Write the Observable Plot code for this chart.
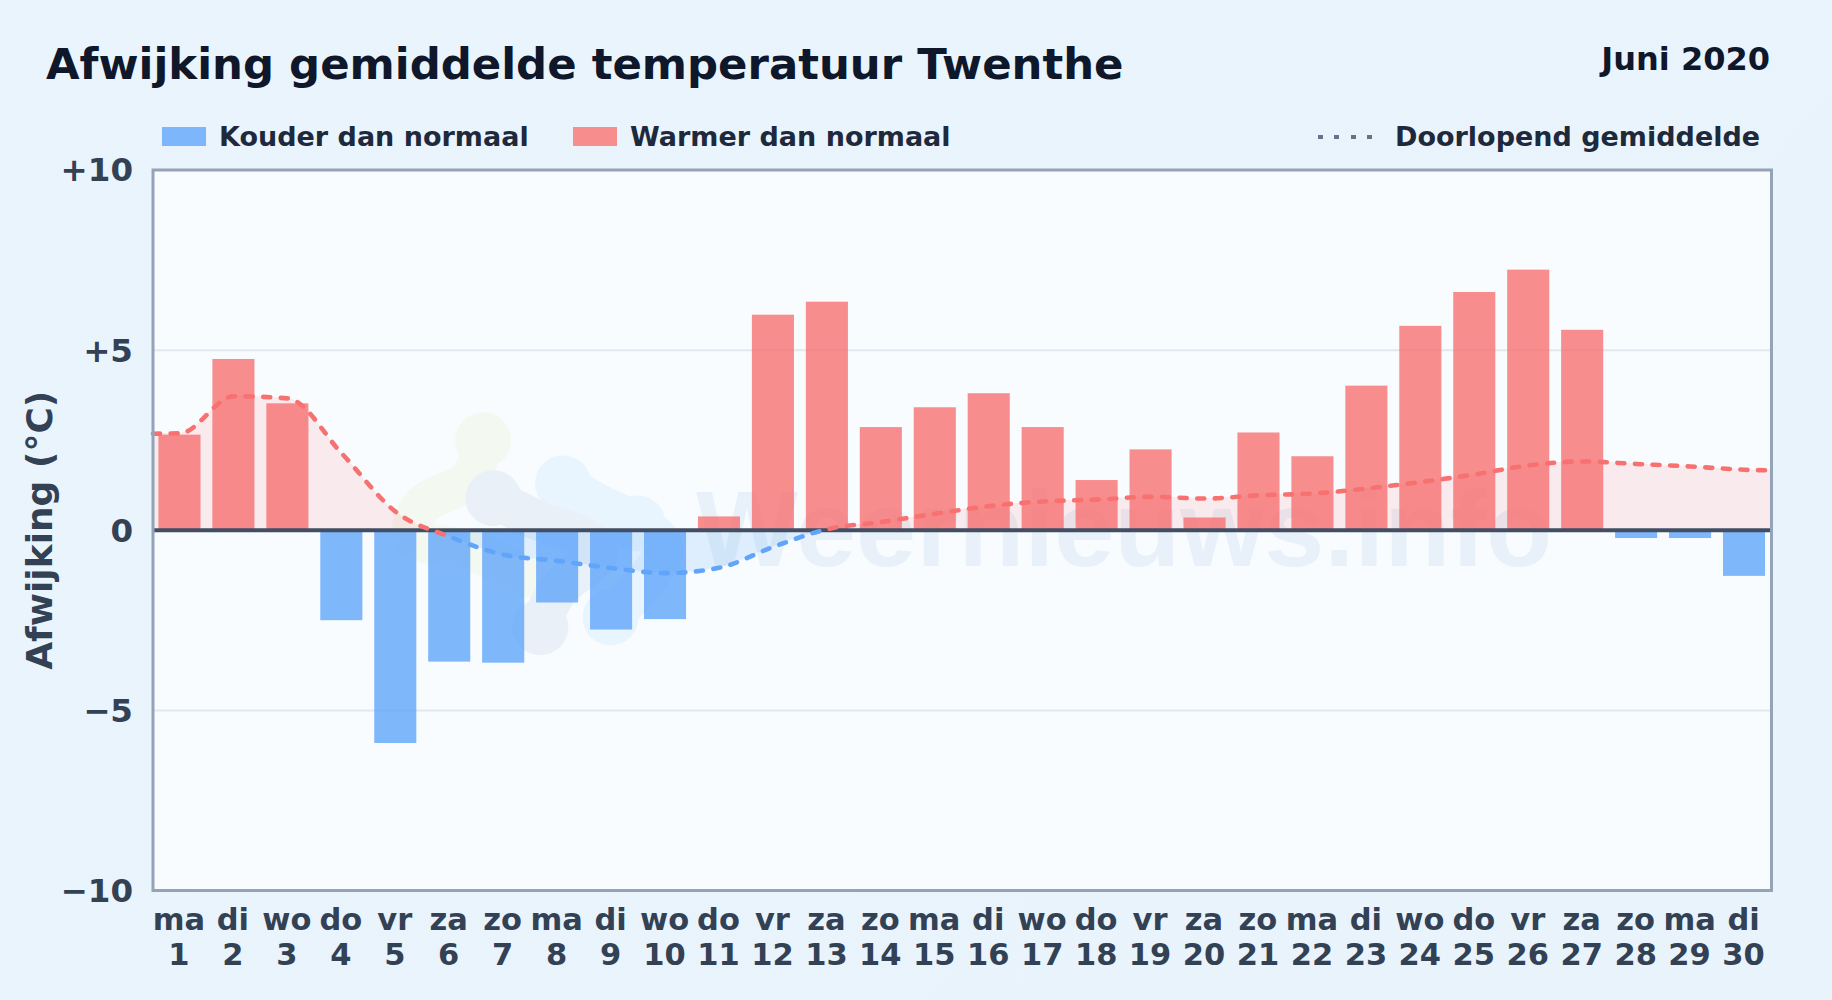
<!DOCTYPE html>
<html lang="nl">
<head>
<meta charset="utf-8">
<script src="https://cdn.jsdelivr.net/npm/d3@7"></script>
<script src="https://cdn.jsdelivr.net/npm/@observablehq/plot@0.6"></script>
<style>
  html, body { margin: 0; padding: 0; width: 1832px; height: 1000px; overflow: hidden;
    background: linear-gradient(135deg, #eaf4fc 0%, #e8f3fc 100%);
    font-family: "DejaVu Sans", sans-serif; font-weight: 700; }
  .abs { position: absolute; white-space: nowrap; }
  #title { left: 46px; top: 38px; font-size: 43.4px; line-height: 52px; color: #0f172a; }
  #period { right: 62px; top: 40px; font-size: 32px; line-height: 38px; color: #0f172a; }
  .legend { font-size: 27px; line-height: 32px; top: 121px; color: #1e293b; }
  .swatch { top: 127px; width: 44px; height: 19px; }
  #dots { left: 1318px; top: 135px; width: 55px; height: 4px;
    background: repeating-linear-gradient(90deg, #64748b 0 5px, transparent 5px 16.5px); }
  #chart { position: absolute; left: 0; top: 140px; }
</style>
</head>
<body>
<div class="abs" id="title">Afwijking gemiddelde temperatuur Twenthe</div>
<div class="abs" id="period">Juni 2020</div>
<div class="abs swatch" style="left:162px;background:#7eb6fb"></div>
<div class="abs legend" style="left:219px">Kouder dan normaal</div>
<div class="abs swatch" style="left:573px;background:#f88d8d"></div>
<div class="abs legend" style="left:630px">Warmer dan normaal</div>
<div class="abs" id="dots"></div>
<div class="abs legend" style="left:1395px">Doorlopend gemiddelde</div>
<div id="chart"></div>
<script>
const days = d3.range(1, 31);
const weekdays = ["ma","di","wo","do","vr","za","zo","ma","di","wo","do","vr","za","zo","ma","di","wo","do","vr","za","zo","ma","di","wo","do","vr","za","zo","ma","di"];
const deviations = [2.64,4.74,3.51,-2.51,-5.92,-3.66,-3.69,-2.02,-2.77,-2.48,0.37,5.97,6.33,2.85,3.40,3.79,2.85,1.38,2.23,0.34,2.70,2.04,4.00,5.66,6.60,7.22,5.55,-0.23,-0.23,-1.28];
const meanDays = [0.5, ...days, 30.5];
const meanValues = [2.68,2.69,3.72,3.66,2.13,0.51,-0.18,-0.68,-0.85,-1.05,-1.19,-1.04,-0.46,0.03,0.23,0.46,0.67,0.80,0.85,0.93,0.88,0.97,1.02,1.16,1.34,1.55,1.80,1.91,1.84,1.77,1.68,1.66];
const coldSpan = [6, 13];
const yTicks = [10, 5, 0, -5, -10];
const gridValues = [5, -5];
const yLabel = "Afwijking (°C)";
const watermark = "Weernieuws.info";
const watermarkAt = [{day: 18.5, value: -1.0}];
const logoGreen = [[6.62,2.5],[6.38,1.47],[5.46,0.64],[5.33,-0.19],[6.38,-0.56],[7.44,-1.3]];
const logoGrey = [[6.81,0.89],[7.62,0.28],[8.48,-0.19],[8.74,-0.64],[8.0,-1.67],[7.68,-2.69]];
const logoBlue = [[8.1,1.3],[8.74,0.75],[9.48,0.19],[9.96,-0.47],[9.48,-1.67],[8.98,-2.42]];
const logoGreenLobes = [[6.62,2.5]];
const logoGreyLobes = [[6.81,0.89],[7.68,-2.69]];
const logoBlueLobes = [[8.1,1.3],[9.48,0.19],[8.98,-2.42]];

const bars = days.map((day, i) => ({day, dev: deviations[i]}));
const mean = meanDays.map((day, i) => ({day, value: meanValues[i]}));
const halfBar = 0.39;
const isCold = d => d.dev < 0;
const fmtY = d => d > 0 ? "+" + d : d < 0 ? "\u2212" + (-d) : "0";
const fmtX = d => weekdays[d - 1] + "\n" + d;
const logoLine = (pts, colour) => Plot.line(pts, {x: "0", y: "1", stroke: colour, strokeWidth: 40, strokeLinecap: "round", strokeLinejoin: "round", curve: "catmull-rom"});
const logoDots = (pts, colour) => Plot.dot(pts, {x: "0", y: "1", r: 28, fill: colour});

const plot = Plot.plot({
  width: 1832, height: 860,
  marginLeft: 152.5, marginRight: 61, marginTop: 29.5, marginBottom: 110,
  style: {background: "transparent", fontFamily: "'DejaVu Sans', sans-serif"},
  x: {type: "linear", domain: [0.5, 30.5]},
  y: {domain: [-10, 10]},
  marks: [
    Plot.frame({fill: "#f8fcff", stroke: "none"}),
    logoLine(logoGreen, "#f3f9f1"), logoDots(logoGreenLobes, "#f3f9f1"),
    logoLine(logoBlue, "#e9f5fe"), logoDots(logoBlueLobes, "#e9f5fe"),
    logoLine(logoGrey, "#e9f0f8"), logoDots(logoGreyLobes, "#e9f0f8"),
    Plot.text(watermarkAt, {x: "day", y: "value", text: () => watermark, fontFamily: "'Liberation Sans', sans-serif", fontWeight: 700, fontSize: 108, fill: "#e8f1fa", textAnchor: "middle", lineAnchor: "bottom"}),
    Plot.ruleY(gridValues, {stroke: "#e2e8f0", strokeWidth: 2}),
    Plot.areaY(mean, {x: "day", y1: 0, y2: "value", fill: "#f87171", fillOpacity: 0.13, curve: "monotone-x"}),
    Plot.areaY(mean, {x: "day", y1: 0, y2: "value", fill: "#60a5fa", fillOpacity: 0.16, curve: "monotone-x"}),
    Plot.rectY(bars.filter(d => !isCold(d)), {x1: d => d.day - halfBar, x2: d => d.day + halfBar, y1: 0, y2: "dev", fill: "#f87171", fillOpacity: 0.8}),
    Plot.rectY(bars.filter(isCold), {x1: d => d.day - halfBar, x2: d => d.day + halfBar, y1: 0, y2: "dev", fill: "#60a5fa", fillOpacity: 0.8}),
    Plot.ruleY([0], {stroke: "#414e63", strokeWidth: 4}),
    Plot.line(mean, {x: "day", y: "value", stroke: "#f87171", strokeWidth: 4.6, strokeDasharray: "7 10.6", strokeLinecap: "round", curve: "monotone-x"}),
    Plot.line(mean, {x: "day", y: "value", stroke: "#60a5fa", strokeWidth: 4.6, strokeDasharray: "7 10.6", strokeLinecap: "round", curve: "monotone-x"}),
    Plot.frame({stroke: "#94a3b8", strokeWidth: 3}),
    Plot.axisY(yTicks, {tickSize: 0, tickPadding: 20, tickFormat: fmtY, fontSize: 32.5, fontWeight: 700, fill: "#334155", label: null, dy: 1}),
    Plot.axisX(days, {tickSize: 0, tickPadding: 15, tickFormat: fmtX, fontSize: 30.5, fontWeight: 700, fill: "#334155", lineHeight: 1.14, label: null, textOverflow: null, dx: -1}),
    Plot.text([yLabel], {frameAnchor: "left", dx: -113, rotate: -90, fontSize: 36, fontWeight: 700, fill: "#334155", textAnchor: "middle", lineAnchor: "middle"})
  ]
});

// Colour the running mean by segment: blue between the two sign changes, red elsewhere.
const xs = plot.scale("x"), ns = "http://www.w3.org/2000/svg";
const defs = document.createElementNS(ns, "defs");
const [cx0, cx1] = coldSpan.map(d => xs.apply(d));
const addClip = (id, spans) => {
  const c = document.createElementNS(ns, "clipPath");
  c.setAttribute("id", id);
  for (const [a, b] of spans) {
    const r = document.createElementNS(ns, "rect");
    r.setAttribute("x", a); r.setAttribute("y", 0);
    r.setAttribute("width", b - a); r.setAttribute("height", 860);
    c.appendChild(r);
  }
  defs.appendChild(c);
};
addClip("clip-warm", [[0, cx0], [cx1, 1832]]);
addClip("clip-cold", [[cx0, cx1]]);
plot.prepend(defs);
const [warmArea, coldArea] = plot.querySelectorAll('g[aria-label="area"]');
const lineGroups = [...plot.querySelectorAll('g[aria-label="line"]')];
const [warmLine, coldLine] = lineGroups.slice(-2);
warmArea.setAttribute("clip-path", "url(#clip-warm)");
warmLine.setAttribute("clip-path", "url(#clip-warm)");
coldArea.setAttribute("clip-path", "url(#clip-cold)");
coldLine.setAttribute("clip-path", "url(#clip-cold)");
document.getElementById("chart").appendChild(plot);
</script>
</body>
</html>
